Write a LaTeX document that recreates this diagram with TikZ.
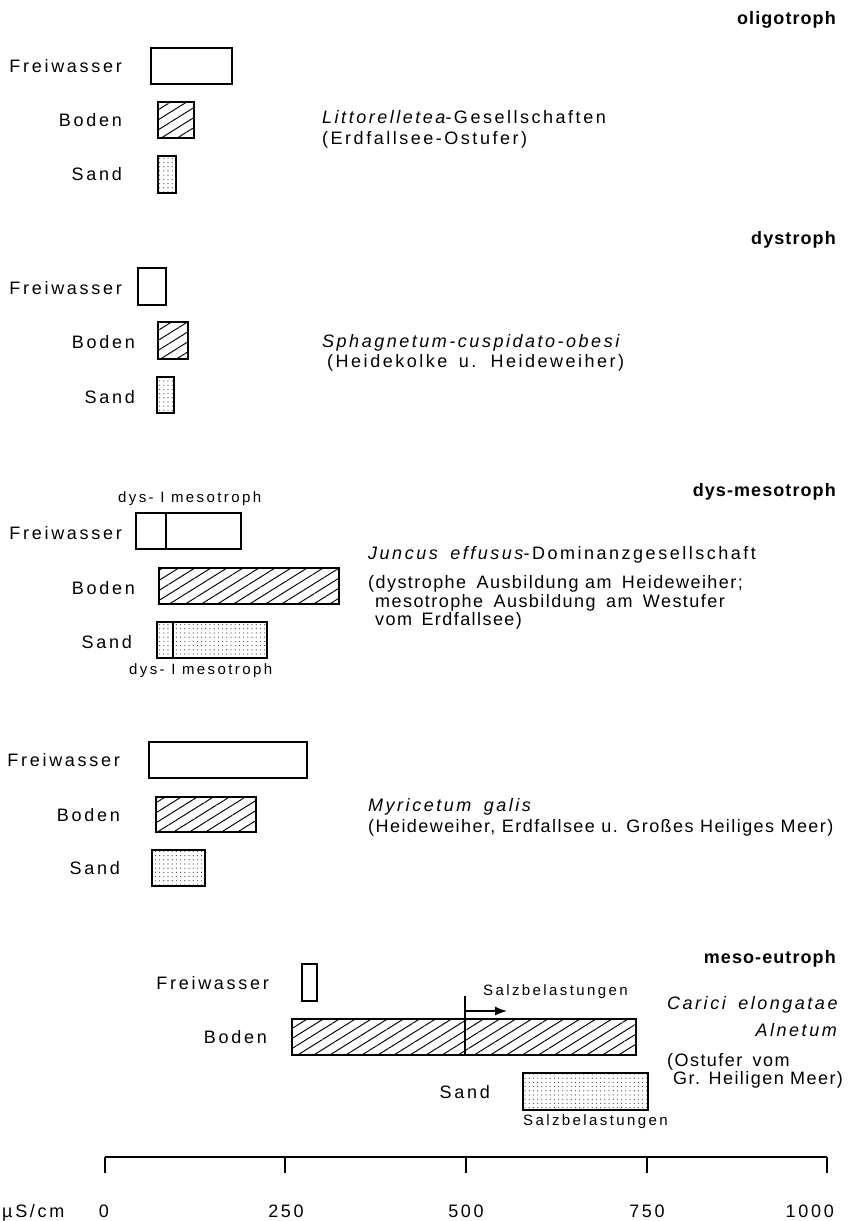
\documentclass[tikz,border=0pt]{standalone}
\usepackage{fontspec}
\setmainfont{Liberation Sans}
\newfontfamily\flab{Liberation Sans}[LetterSpace=15]
\newfontfamily\ftxt{Liberation Sans}[LetterSpace=14]
\newfontfamily\ftight{Liberation Sans}[LetterSpace=8]
\newfontfamily\fsml{Liberation Sans}[LetterSpace=16]
\newfontfamily\fttl{Liberation Sans}[LetterSpace=6]
\usetikzlibrary{patterns.meta,arrows.meta}
\begin{document}
\begin{tikzpicture}[x=1pt,y=-1pt,
  box/.style={draw=black,line width=1.5pt},
  hatch/.style={box,pattern={Lines[angle=32,distance=8.5pt,line width=0.95pt]}},
  dotfill/.style={box,pattern={Dots[distance=4.2pt,radius=0.6pt]},pattern color=black!75},
  lab/.style={font=\flab\fontsize{18}{20}\selectfont,inner sep=0pt,anchor=east},
  txt/.style={font=\ftxt\fontsize{18}{20}\selectfont,inner sep=0pt,anchor=base west},
  tight/.style={font=\ftight\fontsize{18}{20}\selectfont,inner sep=0pt,anchor=base west},
  ttl/.style={font=\fttl\bfseries\fontsize{18}{20}\selectfont,inner sep=0pt,anchor=base east},
  sml/.style={font=\fsml\fontsize{15}{17}\selectfont,inner sep=0pt,anchor=base west},
  ax/.style={font=\flab\fontsize{18}{20}\selectfont,inner sep=0pt,anchor=base},
  divline/.style={line width=1.5pt},
  axline/.style={line width=1.2pt}
]
\useasboundingbox (0,0) rectangle (847,1221);

% ---------- oligotroph ----------
\node[ttl] (t1) at (836,24) {oligotroph};
\draw[box] (151,48) rectangle (232,84);
\draw[hatch] (158,102) rectangle (194,138);
\draw[dotfill] (158,156) rectangle (176,193);
\node[lab] (f1) at (122,66) {Freiwasser};
\node[lab] (b1) at (122,120) {Boden};
\node[lab] (s1) at (122,174) {Sand};
\node[txt] (c1a) at (322,123) {\itshape Littorelletea\upshape-Gesellschaften};
\node[txt] (c1b) at (322,144) {(Erdfallsee-Ostufer)};

% ---------- dystroph ----------
\node[ttl] (t2) at (836,244) {dystroph};
\draw[box] (138,268) rectangle (166,305);
\draw[hatch] (158,322) rectangle (188,359);
\draw[dotfill] (157,377) rectangle (174,413);
\node[lab] (f2) at (122,288) {Freiwasser};
\node[lab] (b2) at (135,342) {Boden};
\node[lab] (s2) at (135,397) {Sand};
\node[txt] (c2a) at (322,347) {\itshape Sphagnetum-cuspidato-obesi};
\node[txt] (c2b) at (327,367) {(Heidekolke\hspace{4pt} u.\hspace{4pt} Heideweiher)};

% ---------- dys-mesotroph ----------
\node[ttl] (t3) at (836,496) {dys-mesotroph};
\node[sml] (d3a) at (118,502) {dys- I mesotroph};
\draw[box] (136,513) rectangle (241,549);
\draw[divline] (166,513) -- (166,549);
\draw[hatch] (159,568) rectangle (339,604);
\draw[dotfill] (157,622) rectangle (267,658);
\draw[divline] (173,622) -- (173,658);
\node[sml] (d3b) at (129,674) {dys- I mesotroph};
\node[lab] (f3) at (122,533) {Freiwasser};
\node[lab] (b3) at (135,588) {Boden};
\node[lab] (s3) at (132,642) {Sand};
\node[txt] (c3a) at (368,559) {\itshape Juncus\hspace{5pt} effusus\upshape-Dominanzgesellschaft};
\node[tight] (c3b) at (368,588) {(dystrophe\hspace{4pt} Ausbildung am\hspace{4pt} Heideweiher;};
\node[tight] (c3c) at (375,607) {mesotrophe\hspace{4pt} Ausbildung\hspace{4pt} am\hspace{4pt} Westufer};
\node[tight] (c3d) at (375,625) {vom\hspace{3pt} Erdfallsee)};

% ---------- Myricetum ----------
\draw[box] (149,742) rectangle (307,778);
\draw[hatch] (156,797) rectangle (256,832);
\draw[dotfill] (152,850) rectangle (205,886);
\node[lab] (f4) at (120,760) {Freiwasser};
\node[lab] (b4) at (120,815) {Boden};
\node[lab] (s4) at (120,868) {Sand};
\node[txt] (c4a) at (368,811) {\itshape Myricetum\hspace{5pt} galis};
\node[tight] (c4b) at (368,832) {(Heideweiher, Erdfallsee u. Großes Heiliges Meer)};

% ---------- meso-eutroph ----------
\node[ttl] (t5) at (836,963) {meso-eutroph};
\draw[box] (302,964) rectangle (317,1001);
\draw[hatch] (292,1019) rectangle (636,1055);
\draw[divline] (465,996) -- (465,1055);
\coordinate (v5) at (465,1011);
\coordinate (a5) at (507,1011);
\draw[line width=1.4pt,-{Latex[length=12pt,width=9pt]}] (v5) -- (a5);
\draw[dotfill] (523,1073) rectangle (648,1110);
\node[lab] (f5) at (269,983) {Freiwasser};
\node[lab] (b5) at (267,1037) {Boden};
\node[lab] (s5) at (490,1092) {Sand};
\node[sml] (z5a) at (483,995) {Salzbelastungen};
\node[sml] (z5b) at (523,1125) {Salzbelastungen};
\node[txt] (c5a) at (667,1009) {\itshape Carici\hspace{5pt} elongatae};
\node[txt,anchor=base east] (c5b) at (837,1036) {\itshape Alnetum};
\node[tight] (c5c) at (667,1066) {(Ostufer\hspace{4pt} vom};
\node[tight] (c5d) at (673,1084) {Gr. Heiligen Meer)};

% ---------- axis ----------
\draw[axline] (105,1157) -- (827,1157);
\foreach \xx in {105,285,466,647,827} \draw[axline] (\xx,1157) -- (\xx,1173);
\node[ax,anchor=base west] (u) at (2,1217) {µS/cm};
\node[ax] (x0) at (104,1217) {0};
\node[ax] (x1) at (286,1217) {250};
\node[ax] (x2) at (466,1217) {500};
\node[ax] (x3) at (647,1217) {750};
\node[ax,anchor=base east] (x4) at (834,1217) {1000};
\end{tikzpicture}
\end{document}
